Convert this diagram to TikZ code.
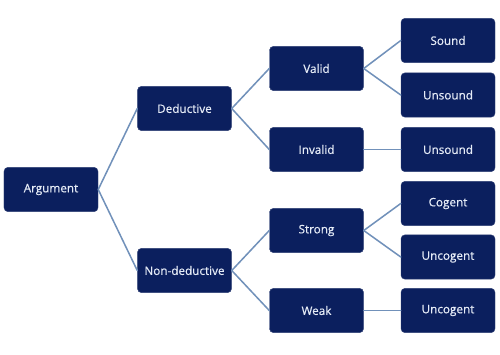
\documentclass[tikz,border=0pt]{standalone}
\usepackage{fontspec}
\setmainfont{Open Sans}
\newfontfamily\boxfont[FakeBold=0.5]{Open Sans}
\definecolor{boxnavy}{HTML}{0B1F5E}
\definecolor{boxtext}{HTML}{E6ECF7}
\definecolor{linkblue}{HTML}{7191BA}
\begin{document}
\begin{tikzpicture}[line cap=round,line join=round,x=0.03cm,y=-0.03cm,
    box/.style={draw=boxnavy!85!white, line width=0.4pt, fill=boxnavy, text=boxtext,
      rounded corners=0.12cm, minimum width=2.82cm, minimum height=1.33cm,
      inner sep=0pt, font=\boxfont\fontsize{10}{12}\selectfont},
    link/.style={draw=linkblue, line width=1.3pt}]
    \useasboundingbox (0,0) rectangle (500,354);
    %% root
    \node[box] (arg) at (51,189.5) {Argument};
    %% second level
    \node[box] (ded) at (184.5,108.5) {Deductive};
    \node[box] (nonded) at (184.5,270.5) {Non-deductive};
    %% third level
    \node[box] (valid) at (316.5,68.5) {Valid};
    \node[box] (invalid) at (316.5,149.5) {Invalid};
    \node[box] (strong) at (316.5,230.5) {Strong};
    \node[box] (weak) at (316.5,310.5) {Weak};
    %% leaves
    \node[box] (sound) at (448,40.5) {Sound};
    \node[box] (unsoundA) at (448,95) {Unsound};
    \node[box] (unsoundB) at (448,149.5) {Unsound};
    \node[box] (cogent) at (448,203.5) {Cogent};
    \node[box] (uncogentA) at (448,257) {Uncogent};
    \node[box] (uncogentB) at (448,310.5) {Uncogent};
    %% connectors
    \draw[link] (arg.east) -- (ded.west);
    \draw[link] (arg.east) -- (nonded.west);
    \draw[link] (ded.east) -- (valid.west);
    \draw[link] (ded.east) -- (invalid.west);
    \draw[link] (nonded.east) -- (strong.west);
    \draw[link] (nonded.east) -- (weak.west);
    \draw[link] (valid.east) -- (sound.west);
    \draw[link] (valid.east) -- (unsoundA.west);
    \draw[link] (invalid.east) -- (unsoundB.west);
    \draw[link] (strong.east) -- (cogent.west);
    \draw[link] (strong.east) -- (uncogentA.west);
    \draw[link] (weak.east) -- (uncogentB.west);
\end{tikzpicture}
\end{document}
